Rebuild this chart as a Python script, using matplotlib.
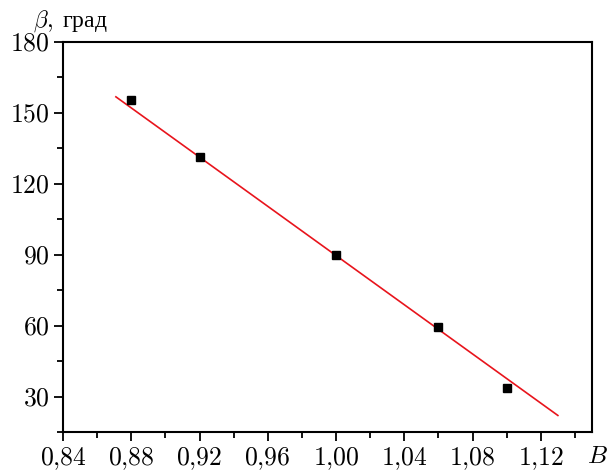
import numpy as np
import matplotlib
matplotlib.use("Agg")
import matplotlib.pyplot as plt
from matplotlib.ticker import MultipleLocator, FuncFormatter

# measured points
B = [0.88, 0.92, 1.00, 1.06, 1.10]
beta = [155.5, 131.5, 90, 59.5, 33.5]

# fitted line (ends)
fit_B = [0.871, 1.130]
fit_beta = [156.8, 22.0]

plt.rcParams['font.family'] = ['Liberation Serif', 'DejaVu Serif']
plt.rcParams['mathtext.fontset'] = 'cm'

fig = plt.figure(figsize=(6.08, 4.73), dpi=100)
ax = fig.add_axes([63 / 608, 1 - 432 / 473, 529 / 608, 390 / 473])

ax.plot(fit_B, fit_beta, color="#e8141c", linewidth=1.2)
ax.plot(B, beta, linestyle="none", marker="s", markersize=6, color="black")

ax.set_xlim(0.84, 1.15)
ax.set_ylim(15, 180)

ax.xaxis.set_major_locator(MultipleLocator(0.04))
ax.xaxis.set_minor_locator(MultipleLocator(0.02))
ax.yaxis.set_major_locator(MultipleLocator(30))
ax.yaxis.set_minor_locator(MultipleLocator(15))
ax.xaxis.set_major_formatter(FuncFormatter(lambda v, p: "$" + f"{v:.2f}".replace(".", "{,}") + "$"))
ax.yaxis.set_major_formatter(FuncFormatter(lambda v, p: f"${v:.0f}$"))

ax.tick_params(which="both", direction="out", top=False, right=False, width=1.3, labelsize=18.5)
ax.tick_params(which="major", length=6.5, pad=3)
ax.tick_params(which="minor", length=4)
for s in ax.spines.values():
    s.set_linewidth(1.5)

fig.text(33 / 608, 1 - 26.5 / 473, r"$\beta{,}\,$ град", fontsize=17, va="baseline", ha="left")
fig.text(587 / 608, 1 - 462.7 / 473, r"$B$", fontsize=18, va="baseline", ha="left")

fig.savefig("out.png", dpi=100)
